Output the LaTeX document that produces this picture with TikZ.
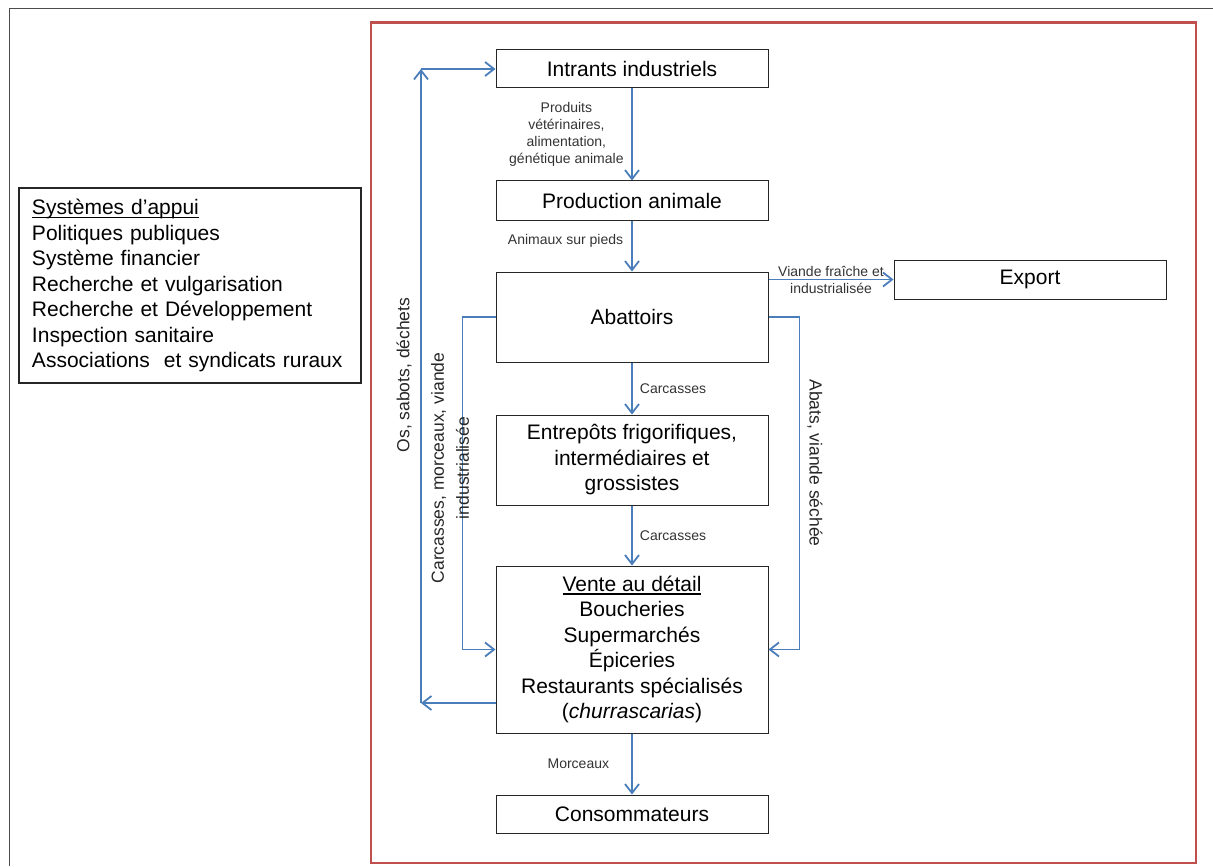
\documentclass[tikz,border=0pt]{standalone}
\usepackage{fontspec}
\setmainfont{Liberation Sans}
\usetikzlibrary{arrows.meta}
\definecolor{flowblue}{HTML}{4A7EBB}
\definecolor{framered}{HTML}{C0504D}
\newcommand{\souligne}[1]{\setbox0\hbox{#1}\rlap{\rule[-1.6pt]{\wd0}{0.6pt}}\box0}
\tikzset{
  box/.style={draw=black!85, line width=0.5pt, minimum width=136pt, inner sep=0pt, align=center, font=\fontsize{10.5}{12.75}\selectfont},
  flow/.style={draw=flowblue, line width=0.9pt, -{Straight Barb[length=4.5pt,width=7pt,line width=0.9pt]}},
  lbl/.style={font=\fontsize{7}{8.5}\selectfont, text=black!80, align=center, inner sep=2pt},
  sidelbl/.style={font=\fontsize{8.75}{12.5}\selectfont, text=black!85, align=center, inner sep=0pt}
}

\begin{document}
\begin{tikzpicture}[x=0.5pt,y=-0.5pt]
\useasboundingbox (0,0) rectangle (1213,866);
% cadres
\draw[draw=black!70, line width=0.5pt] (9,866) -- (9,9) -- (1213,9);
\draw[draw=framered, line width=1.2pt] (371,22.5) rectangle (1196,863);
% chaine
\node[box, minimum height=19pt] (intrants) at (632,69) {Intrants industriels};
\node[box, minimum height=19.5pt] (production) at (632,200.5) {Production animale};
\node[box, minimum height=45pt] (abattoirs) at (632,317) {Abattoirs};
\node[box, minimum height=45pt] (entrepots) at (632,460) {Entrepôts frigorifiques,\\intermédiaires et\\grossistes};
\node[box, minimum height=83.5pt] (vente) at (632,649.5) {\souligne{Vente au détail}\\Boucheries\\Supermarchés\\Épiceries\\Restaurants spécialisés\\(\textit{churrascarias})};
\node[box, minimum height=19pt] (conso) at (632,814) {Consommateurs};
\node[box, minimum height=19.5pt] (export) at (1030,279.5) {Export};
% appui
\node[box, line width=1pt, align=left, text width=158pt, inner xsep=6.5pt, minimum width=171pt, minimum height=97.5pt] (appui) at (190,285.5) {\souligne{Systèmes d’appui}\\Politiques publiques\\Système financier\\Recherche et vulgarisation\\Recherche et Développement\\Inspection sanitaire\\Associations~ et syndicats ruraux};
% fleches
\draw[flow] (intrants) -- node[lbl, left=1.75pt] {Produits\\vétérinaires,\\alimentation,\\génétique animale} (production);
\draw[flow] (production) -- node[lbl, left=2pt, pos=0.4] {Animaux sur pieds} (abattoirs);
\draw[flow] (abattoirs) -- node[lbl, right=1.5pt] {Carcasses} (entrepots);
\draw[flow] (entrepots) -- node[lbl, right=1.5pt] {Carcasses} (vente);
\draw[flow] (vente) -- node[lbl, left=9pt] {Morceaux} (conso);
\draw[flow] (abattoirs.east |- export) -- node[lbl, inner sep=0pt] {Viande fraîche et\\industrialisée} (export);
\draw[flow] (abattoirs.west) -- ++(-33,0) |- (vente.west);
\draw[flow] (abattoirs.east) -- ++(31,0) |- (vente.east);
% retour vers les intrants
\coordinate (retour) at (421,703);
\coordinate (haut) at (421,69);
\draw[flow] (vente.west |- retour) -- (retour);
\draw[flow] (retour) -- (haut);
\draw[flow] (haut) -- (intrants);
% textes verticaux
\node[sidelbl, rotate=90] (os) at (404,375) {Os, sabots, déchets};
\node[sidelbl, rotate=90] (carcmorc) at (450,468) {Carcasses, morceaux, viande\\industrialisée};
\node[sidelbl, rotate=-90] (abats) at (815,463) {Abats, viande séchée};
\end{tikzpicture}
\end{document}
